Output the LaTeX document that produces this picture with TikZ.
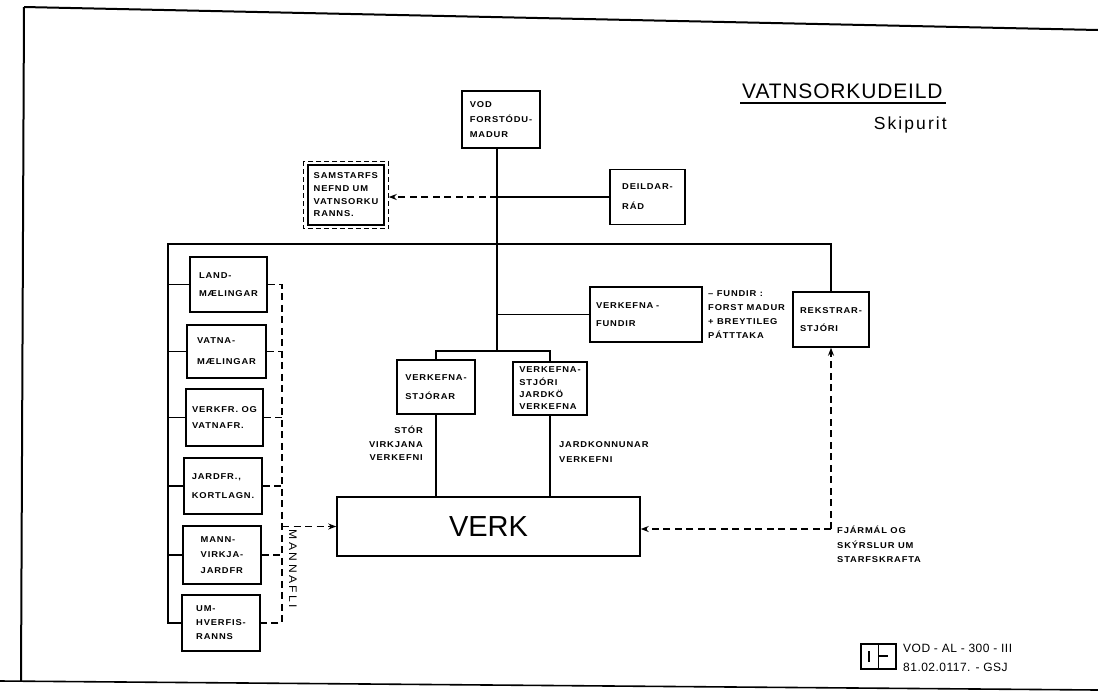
\documentclass[tikz,border=0pt]{standalone}
\usepackage{fontspec}
\setmainfont{Liberation Sans}
\newfontfamily\lblf[LetterSpace=10,FakeStretch=1.1]{Liberation Sans}
\newfontfamily\ttlf[LetterSpace=4]{Liberation Sans}
\newfontfamily\skf[LetterSpace=12]{Liberation Sans}
\newfontfamily\codef[LetterSpace=4]{Liberation Sans}
\usetikzlibrary{arrows.meta,calc}
\newcommand\lbf[1]{\lblf\bfseries\fontsize{8.5}{#1}\selectfont}
\begin{document}
\begin{tikzpicture}[x=1pt,y=-1pt,
  bx/.style={draw,line width=1.5pt,inner sep=0pt,align=left},
  lbl/.style={inner sep=0pt},
  dsh/.style={line width=1.3pt,dash pattern=on 7pt off 4.5pt},
  ln/.style={line width=1.3pt},
  tip/.style={-{Stealth[length=8pt,width=6pt]}},
]
\useasboundingbox (0,0) rectangle (1098,697);
\fill[white] (0,0) rectangle (1098,697);
% frame
\draw[line width=2pt] (24,7) -- (1098,30);
\draw[line width=2pt] (24,7) -- (21,681);
\draw[line width=1.6pt] (0,681) -- (1098,690);
% title
\node[lbl,anchor=base west,font=\ttlf\fontsize{21}{21}\selectfont] (title) at (742,98) {VATNSORKUDEILD};
\draw[line width=1.4pt] ([xshift=-2pt,yshift=-5pt]title.base west) -- ([xshift=3pt,yshift=-5pt]title.base east);
\node[lbl,anchor=base east,font=\skf\fontsize{17.5}{17.5}\selectfont] (skip) at (947,129) {Skipurit};
% boxes
\node[bx,minimum width=78pt,minimum height=57pt,font={\lbf{15}}] (vod) at (501,119.5) {VOD\\FORSTÓDU-\\MADUR};
\node[bx,minimum width=76pt,minimum height=60pt,font={\lbf{12.7}}] (sam) at (346,195) {SAMSTARFS\\NEFND UM\\VATNSORKU\\RANNS.};
\draw[line width=1pt,dash pattern=on 5pt off 3pt] ($(sam.north west)+(-4,-3)$) rectangle ($(sam.south east)+(4,3)$);
\node[bx,minimum width=75pt,minimum height=55pt,font={\lbf{20}}] (dei) at (647.5,197) {DEILDAR-\\RÁD};
\node[bx,minimum width=77pt,minimum height=55pt,font={\lbf{18}}] (land) at (228.5,284.5) {LAND-\\MÆLINGAR};
\node[bx,minimum width=79pt,minimum height=53pt,font={\lbf{21}}] (vatna) at (226.5,351.5) {VATNA-\\MÆLINGAR};
\node[bx,minimum width=77pt,minimum height=57pt,font={\lbf{16}}] (verkfr) at (224.5,417.5) {VERKFR. OG\\VATNAFR.};
\node[bx,minimum width=78pt,minimum height=56pt,font={\lbf{19}}] (jard) at (223,486) {JARDFR.,\\KORTLAGN.};
\node[bx,minimum width=78pt,minimum height=58pt,font={\lbf{15.5}}] (mann) at (222,555) {MANN-\\VIRKJA-\\JARDFR};
\node[bx,minimum width=78pt,minimum height=56pt,font={\lbf{14}}] (um) at (221,623) {UM-\\HVERFIS-\\RANNS};
\node[bx,minimum width=78pt,minimum height=54pt,font={\lbf{19}}] (stjorar) at (436,387) {VERKEFNA-\\STJÓRAR};
\node[bx,minimum width=74pt,minimum height=53pt,font={\lbf{12.3}}] (jardko) at (550,388.5) {VERKEFNA-\\STJÓRI\\JARDKÖ\\VERKEFNA};
\node[bx,minimum width=112pt,minimum height=55pt,text width=100pt,font={\lbf{18}}] (fundir) at (646,314.5) {VERKEFNA -\\FUNDIR};
\node[bx,minimum width=76pt,minimum height=55pt,font={\lbf{18}}] (rek) at (831,319.5) {REKSTRAR-\\STJÓRI};
\node[bx,minimum width=303pt,minimum height=59pt,align=center,font=\fontsize{29}{29}\selectfont] (verk) at (488.5,526.5) {VERK};
% labels
\node[lbl,anchor=east,align=right,font={\lbf{13.5}}] (lstor) at (423,443.5) {STÓR\\VIRKJANA\\VERKEFNI};
\node[lbl,anchor=west,align=left,font={\lbf{15}}] (ljk) at (559,452.5) {JARDKONNUNAR\\VERKEFNI};
\node[lbl,anchor=west,align=left,font={\lbf{14}}] (lfund) at (708,314.5) {– FUNDIR :\\FORST MADUR\\+ BREYTILEG\\PÁTTTAKA};
\node[lbl,anchor=west,align=left,font={\lbf{14.5}}] (lfj) at (837,544.5) {FJÁRMÁL OG\\SKÝRSLUR UM\\STARFSKRAFTA};
\node[lbl,rotate=-90,font=\lblf\fontsize{11}{11}\selectfont\addfontfeature{LetterSpace=22}] (mannafli) at (293,569) {MANNAFLI};
% coordinates
\coordinate (sp1) at (497,351);
\coordinate (tl) at (168,244);
\coordinate (tr) at (831,244);
\coordinate (dvx) at (282,0);
\coordinate (rc) at (831,529);
% connectors
\draw[ln] (vod.south -| sp1) -- (sp1);
\draw[ln] (dei.west -| sp1) -- (dei.west);
\draw[dsh,tip] (dei.west -| sp1) -- ($(sam.east |- dei.west)+(4,0)$);
\draw[ln] (rek.north) -- (tr) -- (tl) -- (tl |- um.west) -- (um.west);
\foreach \b in {land,vatna,verkfr,jard,mann} \draw[ln] (\b.west -| tl) -- (\b.west);
\draw[dsh] (land.east) -- (land.east -| dvx) -- (um.east -| dvx) -- (um.east);
\foreach \b in {vatna,verkfr,jard,mann} \draw[dsh] (\b.east) -- (\b.east -| dvx);
\draw[dsh,tip] (verk.west -| dvx) -- (verk.west);
\draw[ln] (fundir.west -| sp1) -- (fundir.west);
\draw[ln] (stjorar.north) |- (sp1) -| (jardko.north);
\draw[ln] (stjorar.south) -- (stjorar.south |- verk.north);
\draw[ln] (jardko.south) -- (jardko.south |- verk.north);
\draw[dsh,tip] (rc) -- (rc -| verk.east);
\draw[dsh,tip] (rc) -- (rek.south);
% logo and code
\draw[line width=1.2pt] (861,644) rectangle (896,669);
\draw[line width=1.2pt] (878.5,644) -- (878.5,669);
\draw[line width=1.2pt] (869,651) -- (869,662);
\draw[line width=1.2pt] (878.5,656) -- (888,656);
\node[lbl,anchor=west,font=\codef\fontsize{12}{12}\selectfont] (code1) at (903,648) {VOD - AL - 300 - III};
\node[lbl,anchor=west,font=\codef\fontsize{12}{12}\selectfont] (code2) at (903,667) {81.02.0117. - GSJ};
\end{tikzpicture}
\end{document}
